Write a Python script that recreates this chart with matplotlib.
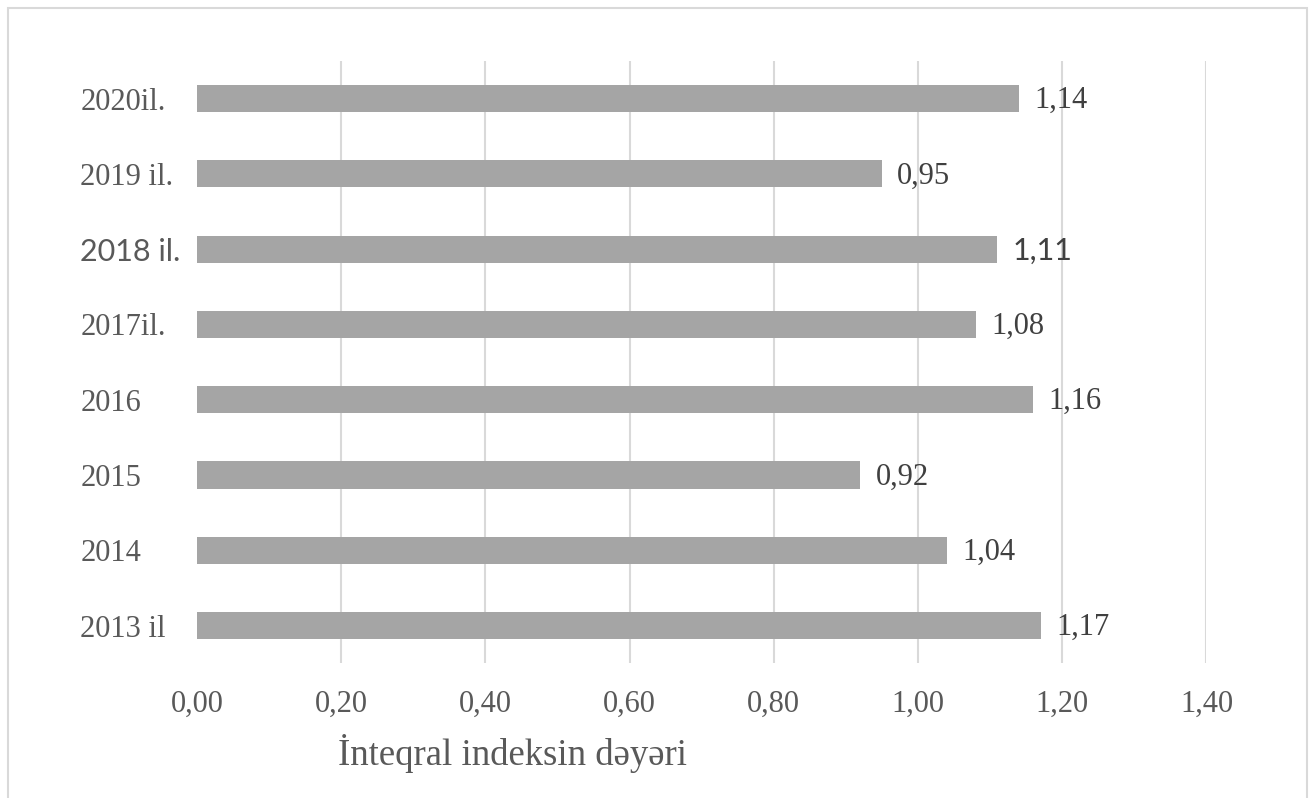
import matplotlib
matplotlib.use("Agg")
import matplotlib.pyplot as plt
from matplotlib.patches import Rectangle

# integral index by year, bottom to top
years = ["2013 il", "2014", "2015", "2016", "2017il.", "2018 il.", "2019 il.", "2020il."]
values = [1.17, 1.04, 0.92, 1.16, 1.08, 1.11, 0.95, 1.14]
value_labels = ["1,17", "1,04", "0,92", "1,16", "1,08", "1,11", "0,95", "1,14"]
xticks = [0.0, 0.2, 0.4, 0.6, 0.8, 1.0, 1.2, 1.4]
xtick_labels = ["0,00", "0,20", "0,40", "0,60", "0,80", "1,00", "1,20", "1,40"]
sans_rows = ["2018 il."]   # this row was typed in a different font

serif = "Liberation Serif"
sans = "Lato"
grey_text = "#595959"
dark_text = "#404040"

fig = plt.figure(figsize=(13.11, 7.98), dpi=100)

# light chart border
fig.patches.append(Rectangle((8 / 1311, -0.05), 1299 / 1311, 1.05 - 8 / 798,
                             transform=fig.transFigure, fill=False,
                             edgecolor="#d9d9d9", linewidth=1.5))

ax = fig.add_axes([0.15027, 0.1690, 0.7700, 0.7546])
pos = range(len(years))
bars = ax.barh(pos, values, height=0.36, color="#a5a5a5", zorder=3)

for i, (v, lab) in enumerate(zip(values, value_labels)):
    fam = sans if years[i] in sans_rows else serif
    ax.annotate(lab, xy=(v, i), xytext=(11, -1.5), textcoords="offset points",
                ha="left", va="center", fontsize=22, family=fam, color=dark_text)

ax.set_xlim(0, 1.4)
ax.set_ylim(-0.5, len(years) - 0.5)
ax.set_xticks(xticks)
ax.set_xticklabels(xtick_labels, family=serif, fontsize=22, color=grey_text)
ax.set_yticks(list(pos))
ax.set_yticklabels(years, fontsize=22, color=grey_text)
for lab in ax.get_yticklabels():
    lab.set_horizontalalignment("left")
    lab.set_family(sans if lab.get_text() in sans_rows else serif)

ax.tick_params(axis="y", length=0, pad=84)
ax.tick_params(axis="x", length=0, pad=19)

for x in xticks[1:]:
    ax.axvline(x, color="#d9d9d9", linewidth=1.5, zorder=1)
for s in ax.spines.values():
    s.set_visible(False)

ax.set_xlabel("İnteqral indeksin dəyəri", family=serif, fontsize=26.5,
              color=grey_text)
ax.xaxis.set_label_coords(0.313, -0.169)
ax.xaxis.label.set_verticalalignment("baseline")

fig.savefig("out.png", dpi=100)
